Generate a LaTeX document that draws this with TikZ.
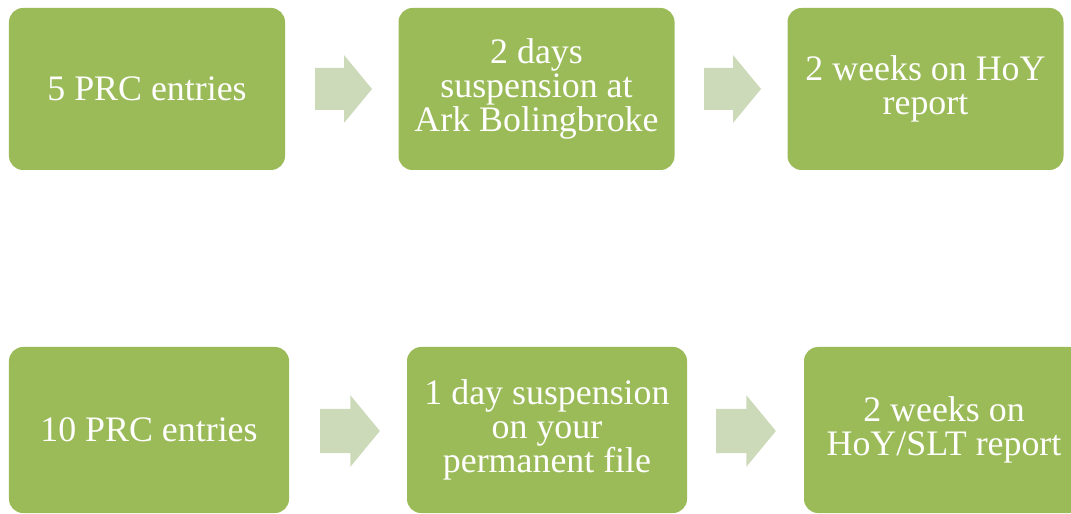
\documentclass[tikz,border=0pt]{standalone}
\usepackage{fontspec}
\setmainfont{Liberation Serif}
\definecolor{boxgreen}{RGB}{155,187,89}
\definecolor{arrowgreen}{RGB}{205,218,185}
\tikzset{
  stepbox/.style={fill=boxgreen, rounded corners=14bp, text=white, align=center,
    font=\fontsize{36}{34}\selectfont, inner sep=0pt},
  toprow/.style={minimum width=276bp, minimum height=162bp},
  botrow/.style={minimum width=280bp, minimum height=166bp},
  barrow/.pic={\fill[arrowgreen] (0,-21) -- (29,-21) -- (29,-34) -- (57,0) -- (29,34) -- (29,21) -- (0,21) -- cycle;}
}
\begin{document}
\begin{tikzpicture}[x=1bp,y=-1bp]
\useasboundingbox (0,0) rectangle (1071,514);
\clip (0,0) rectangle (1071,514);
% top row
\node[stepbox,toprow] (t1) at (147,89) {5 PRC entries};
\node[stepbox,toprow] (t2) at (536.5,89) {2 days\\suspension at\\Ark Bolingbroke};
\node[stepbox,toprow] (t3) at (925.5,89) {2 weeks on HoY\\report};
\pic (ta1) at (315,89) {barrow};
\pic (ta2) at (704,89) {barrow};
% bottom row
\node[stepbox,botrow] (b1) at (149,430) {10 PRC entries};
\node[stepbox,botrow] (b2) at (547,430) {1 day suspension\\on your\\permanent file};
\node[stepbox,botrow] (b3) at (944,430) {2 weeks on\\HoY/SLT report};
\pic[scale=1.05] (ba1) at (320,431) {barrow};
\pic[scale=1.05] (ba2) at (716,431) {barrow};
\end{tikzpicture}
\end{document}
